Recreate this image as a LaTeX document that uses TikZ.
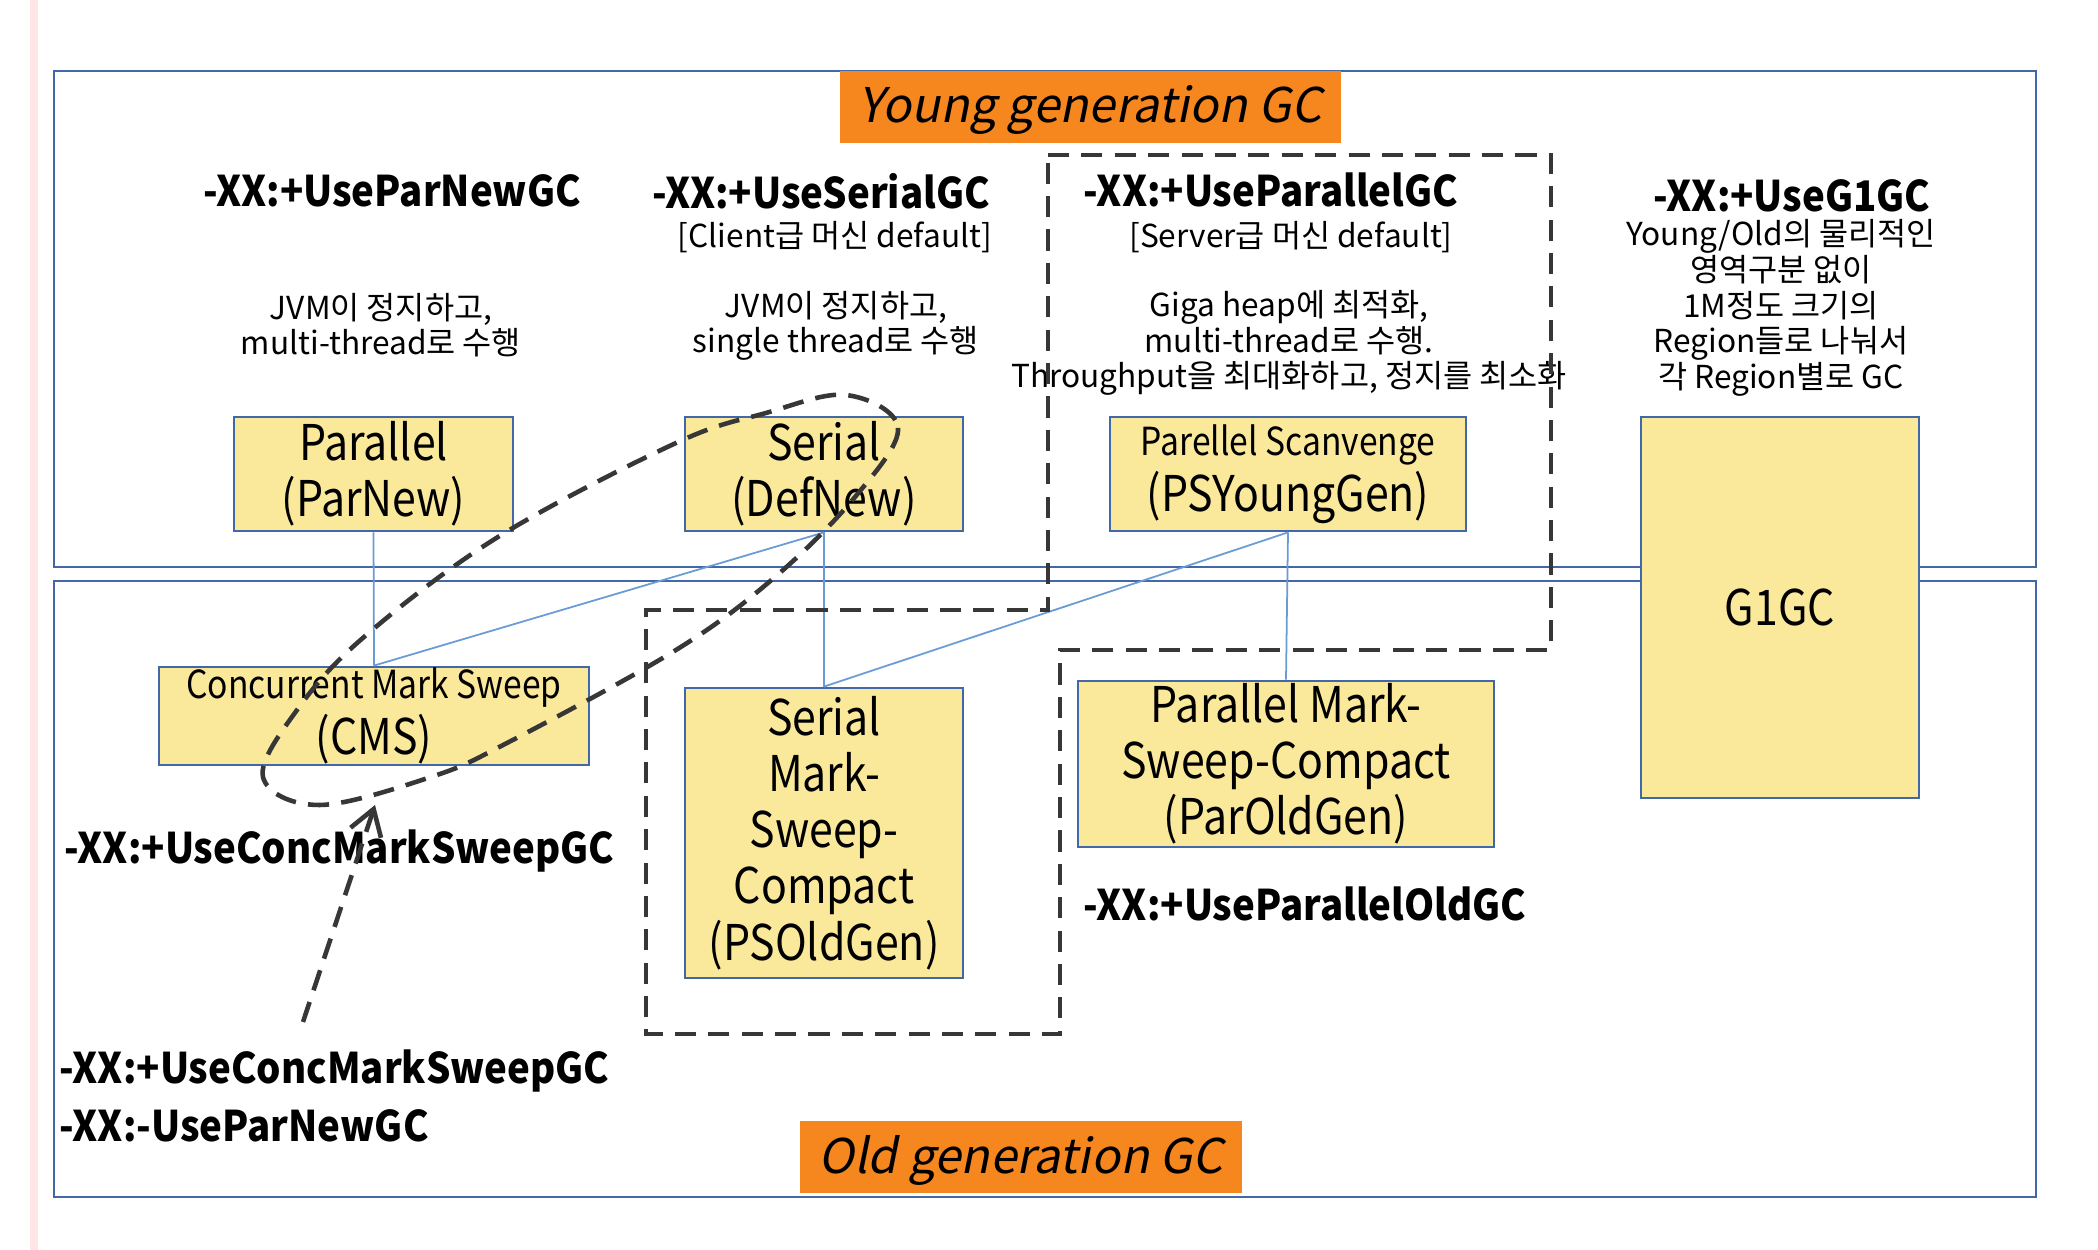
\documentclass[tikz,border=0pt]{standalone}
\usepackage{fontspec}
\setmainfont{Noto Sans CJK KR}[ItalicFont={Noto Sans CJK KR}, ItalicFeatures={FakeSlant=0.2}]
\newfontfamily\boxfont{Noto Sans CJK KR}[FakeStretch=0.87]
\newfontfamily\optfont{Noto Sans CJK KR}[FakeStretch=0.91]
\usepackage{tikz}
\usetikzlibrary{
	arrows.meta,
	positioning,
	calc
}
\definecolor{gcyellow}{RGB}{251,233,155}
\definecolor{gcblue}{RGB}{66,104,168}
\definecolor{linkblue}{RGB}{105,155,215}
\definecolor{gcorange}{RGB}{246,134,30}
\definecolor{dashgray}{RGB}{55,55,55}

\tikzstyle{gcframe} = [draw=gcblue, line width=0.8pt, inner sep=0pt]
\tikzstyle{gcflag} = [fill=gcorange, inner sep=0pt, text depth=0.3ex, font=\fontsize{13.6}{16}\selectfont\itshape]
\tikzstyle{gcbox} = [draw=gcblue, fill=gcyellow, line width=0.8pt, align=center, inner sep=0pt, font=\boxfont\fontsize{14}{16}\selectfont]
\tikzstyle{gcopt} = [inner sep=0pt, font=\optfont\fontsize{12}{14}\selectfont\bfseries]
\tikzstyle{gcnote} = [inner sep=0pt, align=center, font=\fontsize{9}{10}\selectfont]
\tikzstyle{gclink} = [draw=linkblue, line width=0.5pt]
\tikzstyle{gcgroup} = [draw=dashgray, line width=1.3pt, dash pattern=on 6pt off 3.5pt]

\begin{document}
\begin{tikzpicture}
		
		\useasboundingbox (0,0) rectangle (20.98,12.5);
		\fill[white] (0,0) rectangle (20.98,12.5);
		\draw[draw=red!10, line width=2.5pt] (0.34,0) -- (0.34,12.5);
		
		% ====== Cadres Young / Old ======
		\node[gcframe, minimum width=19.82cm, minimum height=4.96cm] (young) at (10.45,9.31) {};
		\node[gcframe, minimum width=19.82cm, minimum height=6.16cm] (old) at (10.45,3.61) {};
		
		\node[gcflag, minimum width=5.01cm, minimum height=0.72cm] (youngflag) at (10.905,11.43) {Young generation GC};
		\node[gcflag, minimum width=4.42cm, minimum height=0.72cm] (oldflag) at (10.21,0.93) {Old generation GC};
		
		% ====== Collecteurs Young ======
		\node[gcbox, minimum width=2.79cm, minimum height=1.14cm] (parnew) at (3.735,7.76) {Parallel\\(ParNew)};
		\node[gcbox, minimum width=2.78cm, minimum height=1.14cm] (defnew) at (8.24,7.76) {Serial\\(DefNew)};
		\node[gcbox, minimum width=3.56cm, minimum height=1.14cm] (psyoung) at (12.88,7.76)
		{\fontsize{11}{13}\selectfont Parellel Scanvenge\\(PSYoungGen)};
		\node[gcbox, minimum width=2.78cm, minimum height=3.81cm] (g1) at (17.80,6.425) {G1GC};
		
		% ====== Collecteurs Old ======
		\node[gcbox, minimum width=4.30cm, minimum height=0.98cm] (cms) at (3.74,5.34)
		{\fontsize{11}{13}\selectfont Concurrent Mark Sweep\\(CMS)};
		\node[gcbox, minimum width=2.78cm, minimum height=2.90cm] (psold) at (8.24,4.17)
		{Serial\\Mark-\\Sweep-\\Compact\\(PSOldGen)};
		\node[gcbox, minimum width=4.16cm, minimum height=1.66cm] (parold) at (12.86,4.86)
		{Parallel Mark-\\Sweep-Compact\\(ParOldGen)};
		
		% ====== Options JVM ======
		\node[gcopt] (optparnew) at (3.92,10.59) {-XX:+UseParNewGC};
		\node[gcopt] (optserial) at (8.21,10.59) {-XX:+UseSerialGC};
		\node[gcopt] (optparallel) at (12.71,10.60) {-XX:+UseParallelGC};
		\node[gcopt] (optg1) at (17.92,10.54) {-XX:+UseG1GC};
		\node[gcopt, anchor=west] (optcms) at (0.64,3.99) {-XX:+UseConcMarkSweepGC};
		\node[gcopt, anchor=west, align=left, font=\optfont\fontsize{12}{16.5}\selectfont\bfseries] (optcmsoff) at (0.59,1.545)
		{-XX:+UseConcMarkSweepGC\\-XX:-UseParNewGC};
		\node[gcopt, anchor=west] (optparold) at (10.83,3.46) {-XX:+UseParallelOldGC};
		
		% ====== Descriptions ======
		\node[gcnote] (clientnote) at (8.35,10.13) {[Client급 머신 default]};
		\node[gcnote] (servernote) at (12.91,10.13) {[Server급 머신 default]};
		\node[gcnote] (parnewdesc) at (3.81,9.245) {JVM이 정지하고,\\multi-thread로 수행};
		\node[gcnote] (serialdesc) at (8.36,9.245) {JVM이 정지하고,\\single thread로 수행};
		\node[gcnote] (paralleldesc) at (12.89,9.07)
		{Giga heap에 최적화,\\multi-thread로 수행.\\Throughput을 최대화하고, 정지를 최소화};
		\node[gcnote, font=\fontsize{9}{10.2}\selectfont] (g1desc) at (17.81,9.42)
		{Young/Old의 물리적인\\영역구분 없이\\1M정도 크기의\\Region들로 나눠서\\각 Region별로 GC};
		
		% ====== Liaisons Young -> Old ======
		\draw[gclink] (parnew.south) -- (cms.north);
		\draw[gclink] (defnew.south) -- (cms.north);
		\draw[gclink] (defnew.south) -- (psold.north);
		\draw[gclink] (psyoung.south) -- (psold.north);
		\draw[gclink] (psyoung.south) -- (parold.north);
		
		% ====== Groupe ParallelGC ======
		\draw[gcgroup] (10.48,10.95) -- (15.51,10.95) -- (15.51,6.00) -- (10.60,6.00) -- (10.60,2.16)
		-- (6.46,2.16) -- (6.46,6.40) -- (10.48,6.40) -- cycle;
		
		% ====== Boucle CMS ======
		\draw[gcgroup] plot[smooth cycle, tension=0.6] coordinates {
			(8.46,8.55) (8.98,8.22) (8.55,7.53) (7.75,6.73) (6.76,6.00) (5.07,5.07)
			(4.31,4.73) (3.19,4.45) (2.63,4.73) (2.97,5.40) (3.64,6.13) (4.98,7.13)
			(6.76,8.07) (7.66,8.37)};
		
		\coordinate (cmstail) at (3.03,2.28);
		\coordinate (loophit) at (3.75,4.45);
		\draw[gcgroup, -{Straight Barb[length=2.5mm, width=3.2mm, line width=1.3pt]}] (cmstail) -- (loophit);
		
\end{tikzpicture}
\end{document}
